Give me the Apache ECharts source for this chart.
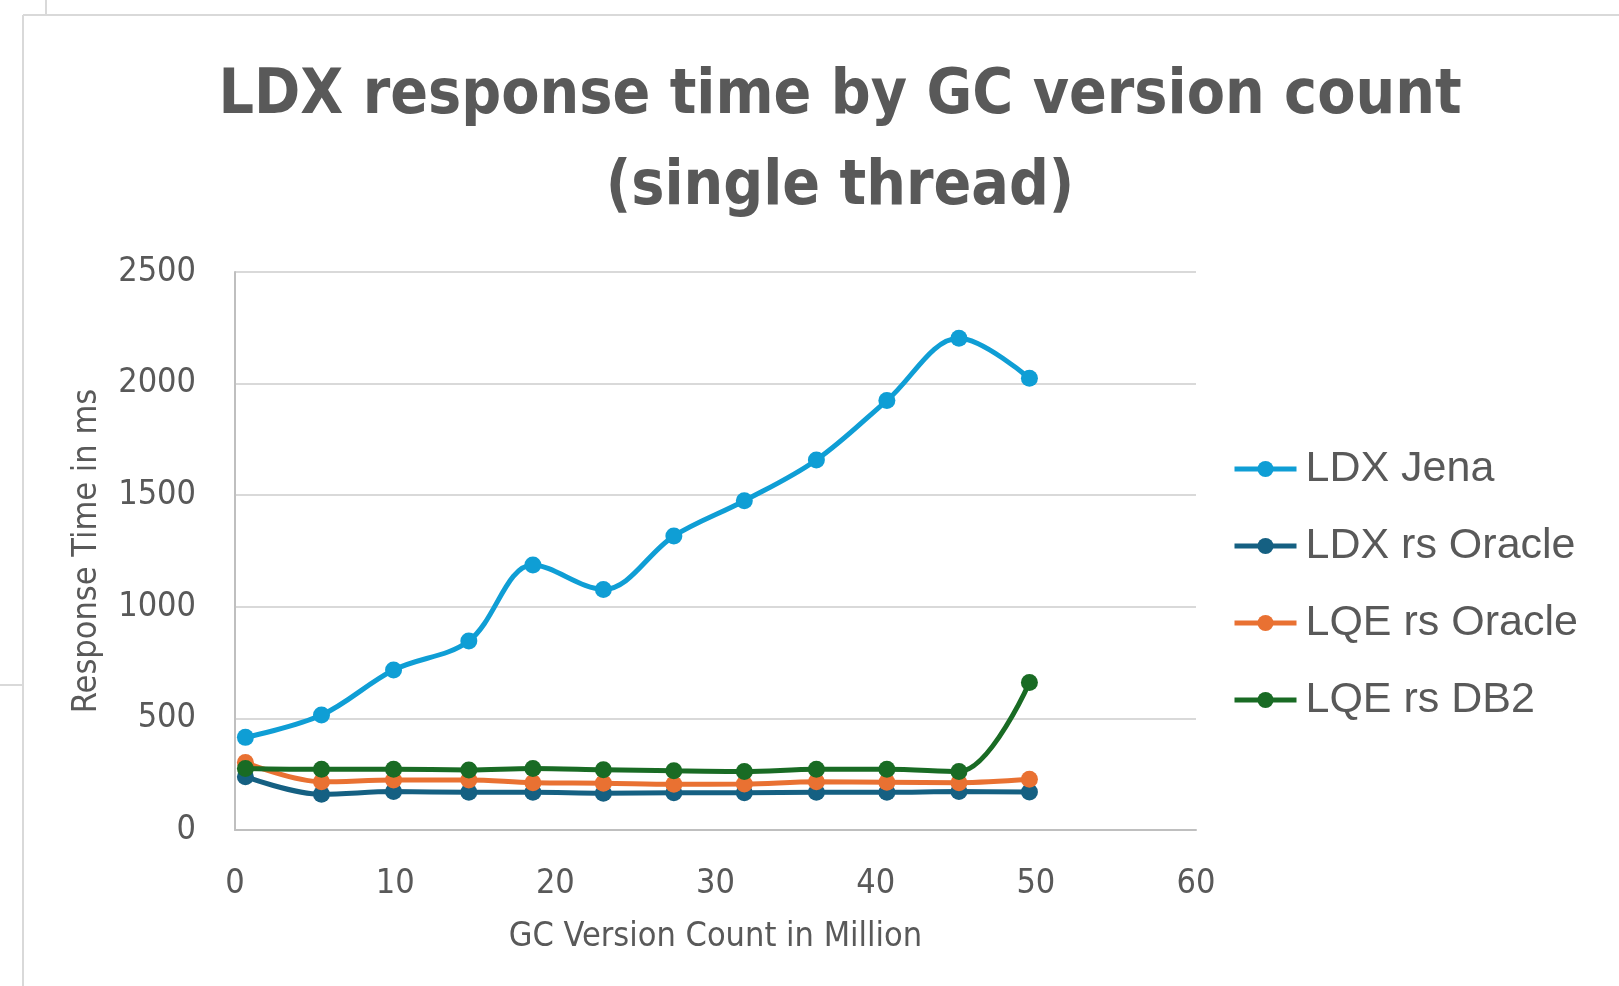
<!DOCTYPE html>
<html>
<head>
<meta charset="utf-8">
<title>LDX response time by GC version count</title>
<script src="https://cdn.jsdelivr.net/npm/echarts@6/dist/echarts.min.js"></script>
<style>
  html, body { margin: 0; padding: 0; background: #fff; }
  #main { width: 1619px; height: 986px; }
</style>
</head>
<body>
<div id="main"></div>
<script>
'use strict';

// GC version count (million)
var versionCount = [0.65, 5.4, 9.9, 14.6, 18.6, 23.0, 27.4, 31.8, 36.3, 40.7, 45.2, 49.6];

// response times in ms
var ldxJena     = [415, 515, 717, 847, 1187, 1078, 1317, 1475, 1658, 1924, 2203, 2024];
var ldxRsOracle = [239, 160, 172, 169, 169, 165, 167, 167, 169, 169, 172, 170];
var lqeRsOracle = [302, 216, 224, 224, 212, 210, 205, 206, 216, 214, 212, 227];
var lqeRsDb2    = [276, 272, 272, 269, 276, 270, 265, 262, 272, 272, 262, 661];

var seriesNames = ['LDX Jena', 'LDX rs Oracle', 'LQE rs Oracle', 'LQE rs DB2'];
var seriesColors = ['#0F9ED5', '#156082', '#E97132', '#196B24'];
var seriesValues = [ldxJena, ldxRsOracle, lqeRsOracle, lqeRsDb2];

var narrow = "'Liberation Sans Narrow', 'DejaVu Sans Condensed', sans-serif";
var textGray = '#595959';

function pairs(ys) {
    var out = [];
    for (var i = 0; i < ys.length; i++) {
        out.push([versionCount[i], ys[i]]);
    }
    return out;
}

var myChart = echarts.init(document.getElementById('main'));

var series = [];
for (var i = 0; i < seriesNames.length; i++) {
    series.push({
        name: seriesNames[i],
        type: 'line',
        smooth: 0.35,
        data: pairs(seriesValues[i]),
        symbol: 'circle',
        symbolSize: 17,
        color: seriesColors[i],
        lineStyle: { width: 5, color: seriesColors[i] },
        itemStyle: { color: seriesColors[i] },
        emphasis: { disabled: true }
    });
}

var option = {
    backgroundColor: '#fff',
    animation: false,
    title: {
        text: 'LDX response time by GC version count\n(single thread)',
        left: 835,
        top: 46,
        textAlign: 'center',
        textStyle: {
            fontFamily: narrow,
            fontWeight: 'bold',
            fontSize: 62,
            lineHeight: 91,
            color: textGray
        }
    },
    legend: {
        orient: 'vertical',
        left: 1232,
        top: 446,
        padding: 0,
        itemWidth: 62,
        itemHeight: 20,
        itemGap: 31,
        data: seriesNames,
        lineStyle: { width: 5 },
        textStyle: {
            fontFamily: "'Liberation Sans', Arial, sans-serif",
            fontSize: 43,
            lineHeight: 46,
            padding: [0, 0, 0, 4],
            color: textGray
        }
    },
    grid: {
        left: 235,
        right: 423,
        top: 272,
        bottom: 156
    },
    xAxis: {
        type: 'value',
        min: 0,
        max: 60,
        interval: 10,
        name: 'GC Version Count in Million',
        nameLocation: 'middle',
        nameGap: 90,
        nameMoveOverlap: false,
        nameTextStyle: { fontFamily: narrow, fontSize: 34, color: textGray },
        axisLine: { show: true, lineStyle: { color: '#bfbfbf', width: 2 } },
        axisTick: { show: false },
        splitLine: { show: false },
        axisLabel: { fontFamily: narrow, fontSize: 34, lineHeight: 34, color: textGray, margin: 37 }
    },
    yAxis: {
        type: 'value',
        min: 0,
        max: 2500,
        interval: 500,
        name: 'Response Time in ms',
        nameLocation: 'middle',
        nameGap: 131,
        nameRotate: 90,
        nameMoveOverlap: false,
        nameTextStyle: { fontFamily: narrow, fontSize: 34, color: textGray },
        axisLine: { show: true, lineStyle: { color: '#bfbfbf', width: 2 } },
        axisTick: { show: false },
        splitLine: { show: true, lineStyle: { color: '#d9d9d9', width: 2 } },
        axisLabel: {
            fontFamily: narrow,
            fontSize: 34,
            color: textGray,
            margin: 39,
            formatter: function (v) { return String(v); }
        }
    },
    graphic: [
        // worksheet / chart frame lines around the chart
        { type: 'line', shape: { x1: 23, y1: 15, x2: 1619, y2: 15 }, style: { stroke: '#d9d9d9', lineWidth: 2 }, silent: true },
        { type: 'line', shape: { x1: 23, y1: 15, x2: 23, y2: 986 }, style: { stroke: '#d9d9d9', lineWidth: 2 }, silent: true },
        { type: 'line', shape: { x1: 46, y1: 0, x2: 46, y2: 15 }, style: { stroke: '#d9d9d9', lineWidth: 2 }, silent: true },
        { type: 'line', shape: { x1: 0, y1: 685, x2: 23, y2: 685 }, style: { stroke: '#d9d9d9', lineWidth: 2 }, silent: true }
    ],
    series: series
};

myChart.setOption(option);
</script>
</body>
</html>
